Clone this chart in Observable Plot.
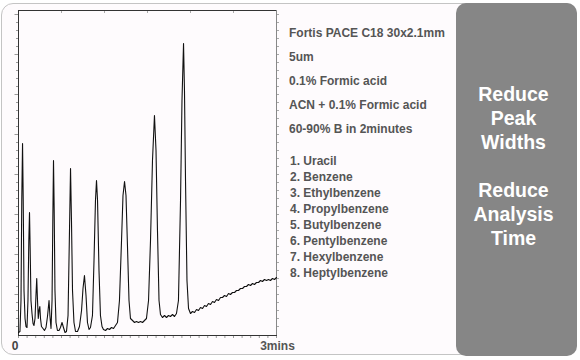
<!DOCTYPE html>
<html><head><meta charset="utf-8">
<script src="https://cdn.jsdelivr.net/npm/d3@7"></script>
<script src="https://cdn.jsdelivr.net/npm/@observablehq/plot@0.6"></script>
<style>
html,body{margin:0;padding:0;background:#fff;}
#wrap{position:relative;width:580px;height:360px;overflow:hidden;font-family:Arial,"Liberation Sans",sans-serif;}
#outer{position:absolute;left:1px;top:3px;width:574px;height:350px;border:1.5px solid #c4c4c4;border-radius:12px;background:#fefbfd;}
#chart{position:absolute;left:0;top:0;}
.info{position:absolute;left:289px;color:#555;font-weight:bold;font-size:12px;line-height:12px;white-space:nowrap;}
#list{position:absolute;left:290px;top:153px;color:#555;font-weight:bold;font-size:12px;line-height:16px;white-space:nowrap;}
#panel{position:absolute;left:456px;top:3px;width:121px;height:353px;background:#868686;border-radius:10px;}
#ptext{position:absolute;left:456px;top:82px;width:115px;text-align:center;color:#fff;font-weight:bold;font-size:19.5px;line-height:24px;}
#ptext div{height:24px;}
</style>
</head><body>
<div id="wrap">
  <div id="outer"></div>
  <div id="chart"></div>
  <div id="panel"></div>
  <div id="ptext"></div>
  <div id="list"></div>
</div>
<script>
// ---- data (time in minutes, detector signal in arbitrary units)
const times = [
  0.000,0.017,0.029,0.038,0.047,0.055,0.064,0.076,0.087,0.099,
  0.110,0.120,0.128,0.136,0.145,0.157,0.169,0.180,0.192,0.203,
  0.212,0.221,0.230,0.240,0.248,0.256,0.267,0.285,0.302,0.320,
  0.337,0.355,0.366,0.378,0.390,0.399,0.407,0.415,0.424,0.436,
  0.453,0.471,0.488,0.506,0.523,0.541,0.558,0.576,0.591,0.605,
  0.616,0.628,0.645,0.663,0.686,0.709,0.733,0.750,0.767,0.785,
  0.802,0.820,0.837,0.860,0.878,0.895,0.907,0.919,0.936,0.953,
  0.971,0.988,1.012,1.035,1.058,1.081,1.105,1.128,1.151,1.174,
  1.198,1.215,1.233,1.250,1.267,1.285,1.302,1.326,1.349,1.372,
  1.395,1.419,1.442,1.465,1.488,1.512,1.535,1.558,1.581,1.599,
  1.616,1.634,1.651,1.674,1.698,1.721,1.744,1.767,1.791,1.814,
  1.837,1.860,1.884,1.901,1.919,1.930,1.942,1.959,1.977,2.000,
  2.023,2.047,2.070,2.093,2.116,2.140,2.163,2.186,2.209,2.233,
  2.256,2.279,2.302,2.326,2.349,2.372,2.395,2.419,2.442,2.465,
  2.488,2.512,2.535,2.558,2.581,2.605,2.628,2.651,2.674,2.698,
  2.721,2.744,2.767,2.791,2.814,2.837,2.860,2.884,2.907,2.930,
  2.953,2.977,3.000
];
const signal = [
  2,3,34,134,191,134,44,16,8,7,
  34,94,122,84,34,21,11,9,16,39,
  56,34,16,25,28,16,8,6,4,7,
  18,34,18,6,34,114,174,124,44,12,
  4,4,7,12,7,2,3,19,94,166,
  114,44,12,3,3,8,24,46,59,39,
  12,5,7,19,74,134,154,134,64,19,
  8,5,4,6,5,7,6,9,12,34,
  94,139,153,139,89,34,16,14,12,13,
  12,13,12,14,16,34,94,174,219,184,
  104,34,20,17,19,17,19,18,20,18,
  21,34,134,234,291,244,154,54,26,21,
  23,22,25,24,27,26,29,28,31,30,
  33,32,35,34,37,37,39,38,41,40,
  42,42,44,44,46,46,48,48,50,49,
  51,50,52,52,54,53,55,54,55,54,
  56,55,57
];
const xMinorTicks = [0,0.1,0.2,0.3,0.4,0.5,0.6,0.7,0.8,0.9,1,1.1,1.2,1.3,1.4,1.5,1.6,1.7,1.8,1.9,2,2.1,2.2,2.3,2.4,2.5,2.6,2.7,2.8,2.9,3];
const xTopTicks = [0.5,1,1.5,2,2.5];
const yMinorTicks = [8,16,24,32,40,48,56,64,72,80,88,96,104,112,120,128,136,144,152,160,168,176,184,192,200,208,216,224,232,240,248,256,264,272,280,288,296,304,312,320];
const yMajorTicks = [40,80,120,160,200,240,280,320];
const xTickValues = [0, 3];
const xTickLabels = ["0", "3mins"];

const infoLines = ["Fortis PACE C18 30x2.1mm","5um","0.1% Formic acid","ACN + 0.1% Formic acid","60-90% B in 2minutes"];
const compounds = ["1. Uracil","2. Benzene","3. Ethylbenzene","4. Propylbenzene","5. Butylbenzene","6. Pentylbenzene","7. Hexylbenzene","8. Heptylbenzene"];
const panelLines = ["Reduce","Peak","Widths","","Reduce","Analysis","Time"];

// ---- chart
const chroma = times.map((t, i) => ({t, s: signal[i]}));
const labels = xTickValues.map((t, i) => ({t, label: xTickLabels[i]}));
const blank = () => "";

const plot = Plot.plot({
  width: 300, height: 360,
  marginLeft: 18, marginRight: 24, marginTop: 10, marginBottom: 25,
  style: {background: "transparent", fontFamily: "Arial, 'Liberation Sans', sans-serif"},
  x: {domain: [0, 3], label: null},
  y: {domain: [-1, 324], label: null},
  marks: [
    Plot.axisX({anchor: "bottom", ticks: xMinorTicks, tickSize: 3, tickFormat: blank, stroke: "#9a9a9a", label: null}),
    Plot.axisY({anchor: "left", ticks: yMinorTicks, tickSize: 2, tickFormat: blank, stroke: "#9a9a9a", label: null}),
    Plot.axisY({anchor: "left", ticks: yMajorTicks, tickSize: 3.5, tickFormat: blank, stroke: "#9a9a9a", label: null}),
    Plot.axisY({anchor: "right", ticks: yMinorTicks, tickSize: 2, tickFormat: blank, stroke: "#aaa", label: null}),
    Plot.ruleX(xTopTicks, {stroke: "#aaa", insetBottom: 322}),
    Plot.frame({stroke: "#333"}),
    Plot.ruleX([3], {stroke: "#888"}),
    Plot.line(chroma, {x: "t", y: "s", stroke: "#111", strokeWidth: 1.1}),
    Plot.text(labels.slice(0, 1), {x: "t", text: "label", frameAnchor: "bottom", dy: 14, dx: -3.5, fill: "#444", fontSize: 12, fontWeight: "bold", lineAnchor: "bottom"}),
    Plot.text(labels.slice(1), {x: "t", text: "label", frameAnchor: "bottom", dy: 14, dx: 1, fill: "#555", fontSize: 12, fontWeight: "bold", lineAnchor: "bottom"})
  ]
});
document.getElementById("chart").appendChild(plot);

// ---- texts
const wrap = document.getElementById("wrap");
const infoTops = [27, 51, 75, 99, 123];
infoLines.forEach((txt, i) => {
  const d = document.createElement("div");
  d.className = "info";
  d.style.top = infoTops[i] + "px";
  d.textContent = txt;
  wrap.appendChild(d);
});
const list = document.getElementById("list");
compounds.forEach(txt => {
  const d = document.createElement("div");
  d.textContent = txt;
  list.appendChild(d);
});
const pt = document.getElementById("ptext");
panelLines.forEach(txt => {
  const d = document.createElement("div");
  d.textContent = txt;
  pt.appendChild(d);
});
</script>
</body></html>
